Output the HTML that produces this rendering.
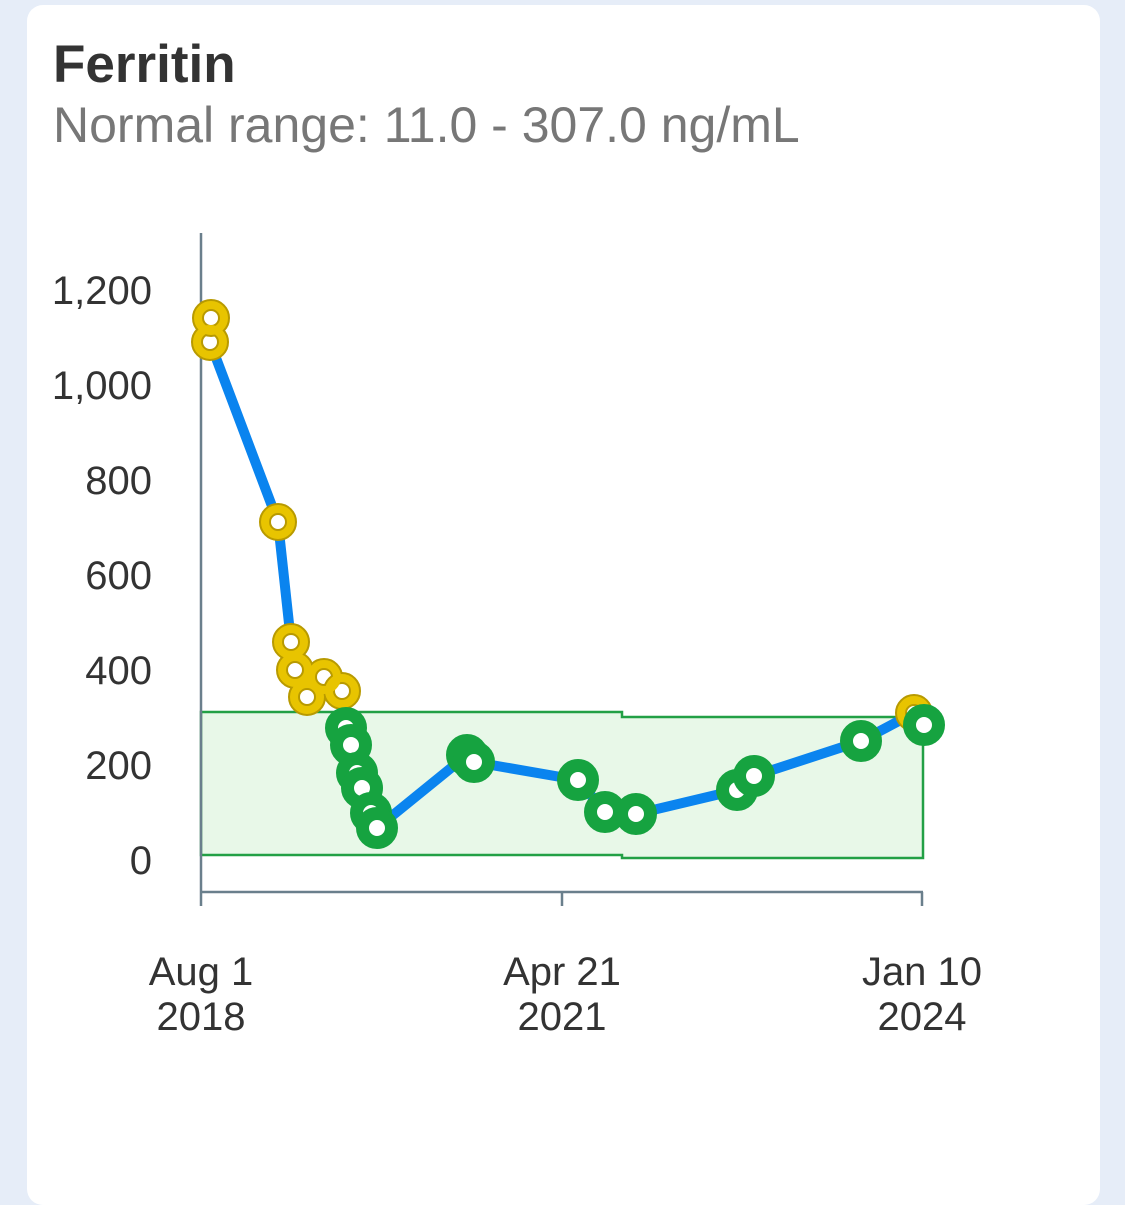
<!DOCTYPE html>
<html><head><style>
body{margin:0;background:#e6edf8;width:1125px;height:1117px;overflow:hidden;font-family:"Liberation Sans",sans-serif}
.card{position:absolute;left:27px;top:5px;width:1073px;height:1200px;background:#fff;border-radius:16px}
h1{position:absolute;left:53px;top:38px;margin:0;font-size:53px;font-weight:bold;color:#333;line-height:1}
.sub{position:absolute;left:53px;top:100px;font-size:50px;color:#777;line-height:1}
</style></head><body>
<div class="card"></div>
<h1>Ferritin</h1>
<div class="sub">Normal range: 11.0 - 307.0 ng/mL</div>
<svg width="1125" height="1117" style="position:absolute;left:0;top:0">
<path d="M201,712 H622 V717 H923 V858 H622 V855 H201 Z" fill="#e8f8e8" stroke="#22a045" stroke-width="2.5"/>
<g stroke="#6a7f8c" stroke-width="2.5">
<line x1="201" y1="233" x2="201" y2="906"/>
<line x1="201" y1="892" x2="923" y2="892"/>
<line x1="562" y1="892" x2="562" y2="906"/>
<line x1="922" y1="892" x2="922" y2="906"/>
</g>
<g font-size="40" fill="#333" text-anchor="end">
<text x="152" y="304">1,200</text><text x="152" y="399">1,000</text><text x="152" y="494">800</text>
<text x="152" y="589">600</text><text x="152" y="684">400</text><text x="152" y="779">200</text><text x="152" y="874">0</text>
</g>
<g font-size="40" fill="#333" text-anchor="middle">
<text x="201" y="985">Aug 1</text><text x="201" y="1030">2018</text>
<text x="562" y="985">Apr 21</text><text x="562" y="1030">2021</text>
<text x="922" y="985">Jan 10</text><text x="922" y="1030">2024</text>
</g>
<polyline fill="none" stroke="#0a84ef" stroke-width="10" stroke-linejoin="round" points="211,318 210,342 278,522 291,642 295,670 307,697 324,677 342,691 346,728 351,745 357,773 362,788 371,813 377,828 467,755 474,762 578,780 605,812 636,814 737,790 754,776 861,741 914,713 924,725"/>
<g fill="#fff" stroke="#b89a00" stroke-width="12">
<circle cx="210" cy="342" r="13"/><circle cx="211" cy="318" r="13"/><circle cx="278" cy="522" r="13"/>
<circle cx="291" cy="642" r="13"/><circle cx="295" cy="670" r="13"/><circle cx="307" cy="697" r="13"/>
<circle cx="324" cy="677" r="13"/><circle cx="342" cy="691" r="13"/><circle cx="914" cy="713" r="13"/>
</g>
<g fill="none" stroke="#e8c400" stroke-width="8">
<circle cx="210" cy="342" r="13"/><circle cx="211" cy="318" r="13"/><circle cx="278" cy="522" r="13"/>
<circle cx="291" cy="642" r="13"/><circle cx="295" cy="670" r="13"/><circle cx="307" cy="697" r="13"/>
<circle cx="324" cy="677" r="13"/><circle cx="342" cy="691" r="13"/><circle cx="914" cy="713" r="13"/>
</g>
<g fill="#fff" stroke="#16a340" stroke-width="13">
<circle cx="346" cy="728" r="14.5"/><circle cx="351" cy="745" r="14.5"/><circle cx="357" cy="773" r="14.5"/>
<circle cx="362" cy="788" r="14.5"/><circle cx="371" cy="813" r="14.5"/><circle cx="377" cy="828" r="14.5"/>
<circle cx="467" cy="755" r="14.5"/><circle cx="474" cy="762" r="14.5"/><circle cx="578" cy="780" r="14.5"/>
<circle cx="605" cy="812" r="14.5"/><circle cx="636" cy="814" r="14.5"/><circle cx="737" cy="790" r="14.5"/>
<circle cx="754" cy="776" r="14.5"/><circle cx="861" cy="741" r="14.5"/><circle cx="924" cy="725" r="14.5"/>
</g>
</svg>
</body></html>
